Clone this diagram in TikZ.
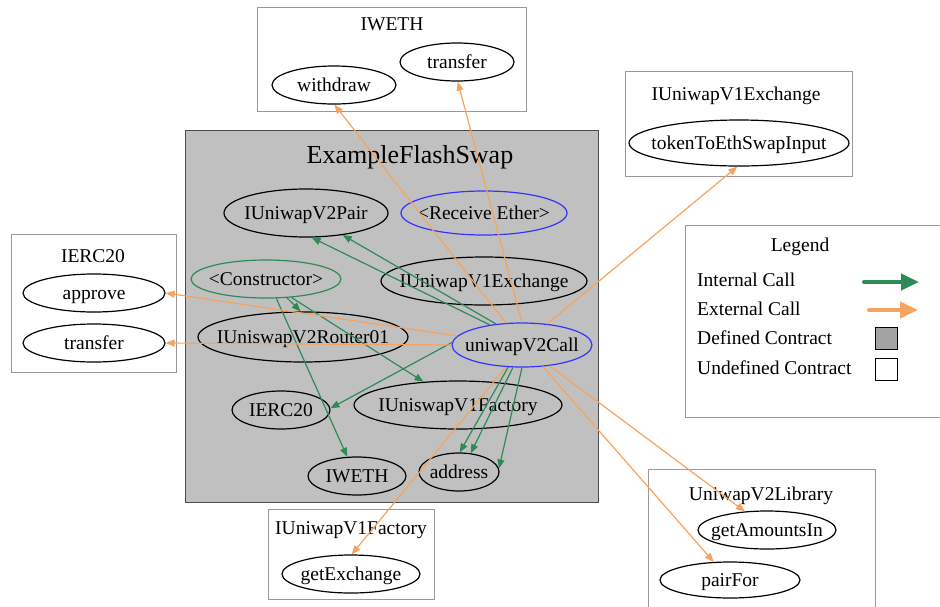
\documentclass[tikz,border=0pt]{standalone}
\usepackage{fontspec}
\setmainfont{Liberation Serif}
\usetikzlibrary{shapes.geometric,arrows.meta}
\definecolor{intc}{HTML}{2E8B57}
\definecolor{extc}{HTML}{F4A460}
\definecolor{fnblue}{HTML}{3333FF}
\definecolor{clfill}{HTML}{C0C0C0}
\definecolor{clline}{HTML}{9A9A9A}
\definecolor{defsq}{HTML}{A3A3A3}
\newcommand\ztx[1]{\makebox[0pt]{#1}}
\begin{document}
\begin{tikzpicture}[x=1pt,y=-1pt,
  ell/.style={ellipse,draw=black,line width=1.2pt,inner sep=0pt,text height=17pt,text depth=4pt,font=\rmfamily\fontsize{19.5}{22}\selectfont},
  fnell/.style={ell,draw=fnblue},
  ctell/.style={ell,draw=intc},
  clbox/.style={draw=clline,line width=0.8pt},
  cltitle/.style={font=\rmfamily\fontsize{19.5}{22}\selectfont,inner sep=0pt},
  iarr/.style={draw=intc,line width=1.2pt,-{Triangle[length=9pt,width=7pt]}},
  earr/.style={draw=extc,line width=1.2pt,-{Triangle[length=9pt,width=7pt]}},
  lgtext/.style={font=\rmfamily\fontsize{19.5}{22}\selectfont,anchor=west,inner sep=0pt},
]
\useasboundingbox (0,0) rectangle (940,606);
\fill[white] (0,0) rectangle (940,606);

% clusters
\draw[draw=black!70,fill=clfill,line width=0.9pt] (185,130) rectangle (598,502);
\node[font=\rmfamily\fontsize{26}{30}\selectfont,inner sep=0pt] (main) at (410,157) {ExampleFlashSwap};

\draw[clbox] (257,7) rectangle (526,111);
\node[cltitle] (cweth) at (392,24) {IWETH};
\draw[clbox] (625,71) rectangle (852,176);
\node[cltitle] (cv1ex) at (736,96) {IUniwapV1Exchange};
\draw[clbox] (11,234) rectangle (176,372);
\node[cltitle] (cerc) at (93,256) {IERC20};
\draw[clbox] (268,509) rectangle (434,599);
\node[cltitle] (cv1f) at (351,530) {IUniwapV1Factory};
\draw[clbox] (648,469) -- (875,469) -- (875,610) (648,469) -- (648,610);
\node[cltitle] (clib) at (761,496) {UniwapV2Library};

% legend
\draw[clbox] (945,225) -- (685,225) -- (685,417) -- (945,417);
\node[cltitle] (lg) at (800,247) {Legend};
\node[lgtext] (lgi) at (697,280) {Internal Call};
\node[lgtext] (lge) at (697,309) {External Call};
\node[lgtext] (lgd) at (697,338) {Defined Contract};
\node[lgtext] (lgu) at (697,368) {Undefined Contract};
\coordinate (ia1) at (864,282);
\coordinate (ia2) at (919,282);
\coordinate (ea1) at (869,310);
\coordinate (ea2) at (918,310);
\draw[draw=intc,line width=4pt,line cap=round,-{Triangle[length=18pt,width=16pt]}] (ia1) -- (ia2);
\draw[draw=extc,line width=4pt,line cap=round,-{Triangle[length=18pt,width=16pt]}] (ea1) -- (ea2);
\node[draw=black,line width=0.9pt,fill=defsq,minimum size=22pt,inner sep=0pt] (dsq) at (886,338) {};
\node[draw=black,line width=0.9pt,fill=white,minimum size=22pt,inner sep=0pt] (usq) at (886,369) {};

% inner nodes
\node[ell,minimum width=164,minimum height=48] (pair) at (306,213) {\ztx{IUniwapV2Pair}};
\node[fnell,minimum width=166,minimum height=44] (recv) at (484,213) {\ztx{<Receive Ether>}};
\node[ctell,minimum width=150,minimum height=38] (ctor) at (266,279) {\ztx{<Constructor>}};
\node[ell,minimum width=206,minimum height=48] (v1ex) at (484,281) {\ztx{IUniwapV1Exchange}};
\node[ell,minimum width=210,minimum height=50] (router) at (303,337) {\ztx{IUniswapV2Router01}};
\node[fnell,minimum width=140,minimum height=44] (call) at (522,345) {\ztx{uniwapV2Call}};
\node[ell,minimum width=98,minimum height=38] (ierc) at (281,410) {\ztx{IERC20}};
\node[ell,minimum width=208,minimum height=48] (v1f) at (458,405) {\ztx{IUniswapV1Factory}};
\node[ell,minimum width=98,minimum height=38] (iweth) at (357,476) {\ztx{IWETH}};
\node[ell,minimum width=80,minimum height=38] (addr) at (459,472) {\ztx{address}};

% outer nodes
\node[ell,minimum width=124,minimum height=38] (withdraw) at (334,85) {\ztx{withdraw}};
\node[ell,minimum width=114,minimum height=38] (wtransfer) at (457,62) {\ztx{transfer}};
\node[ell,minimum width=220,minimum height=46] (tok) at (739,143) {\ztx{tokenToEthSwapInput}};
\node[ell,minimum width=142,minimum height=38] (approve) at (94,293) {\ztx{approve}};
\node[ell,minimum width=142,minimum height=38] (etransfer) at (94,343) {\ztx{transfer}};
\node[ell,minimum width=138,minimum height=38] (getex) at (351,574) {\ztx{getExchange}};
\node[ell,minimum width=138,minimum height=38] (getam) at (767,530) {\ztx{getAmountsIn}};
\node[ell,minimum width=140,minimum height=36] (pairfor) at (730,580) {\ztx{pairFor}};

% internal calls
\draw[iarr] (call.148) -- (pair.-77);
\draw[iarr] (call.141) -- (pair.-31);
\draw[iarr] (call.178) -- (ierc.2);
\draw[iarr] (call.-122) -- (addr.88);
\draw[iarr] (call.-112) -- (addr.58);
\draw[iarr] (call.-90) -- (addr.5);
\draw[iarr] (ctor.-42) -- (router.95);
\draw[iarr] (ctor.-36) -- (v1f.146);
\draw[iarr] (ctor.-62) -- (iweth.117);

% external calls
\draw[earr] (call.126) -- (withdraw.-89);
\draw[earr] (call.90) -- (wtransfer.-88);
\draw[earr] (call.40) -- (tok.-94);
\draw[earr] (call.172) -- (approve.0);
\draw[earr] (call.180) -- (etransfer.0);
\draw[earr] (call.-126) -- (getex.88);
\draw[earr] (call.-37) -- (getam.140);
\draw[earr] (call.-46) -- (pairfor.132);
\end{tikzpicture}
\end{document}
